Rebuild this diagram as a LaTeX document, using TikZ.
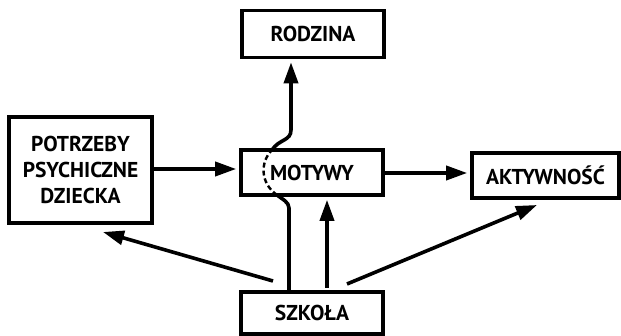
\documentclass[tikz,border=0pt]{standalone}
\usepackage{fontspec}
\setmainfont{PT Sans}
\usetikzlibrary{arrows.meta}
\begin{document}
\begin{tikzpicture}[x=1pt,y=-1pt,
  box/.style={draw,line width=3.6pt,inner sep=0pt,align=center,
    font=\fontsize{21.5}{26}\selectfont\bfseries},
  conn/.style={line width=3.6pt},
  arr/.style={conn,shorten >=3pt,-{Triangle[length=21pt,width=14pt]}}]
\useasboundingbox (0,0) rectangle (621,336);
\node[box,minimum width=142pt,minimum height=47pt] (rodzina) at (313,34) {RODZINA};
\node[box,minimum width=142pt,minimum height=45pt] (motywy) at (312,172.5) {MOTYWY};
\node[box,minimum width=143pt,minimum height=106pt] (potrzeby) at (80.5,170) {POTRZEBY\\PSYCHICZNE\\DZIECKA};
\node[box,minimum width=147pt,minimum height=45pt] (aktyw) at (545.5,175.5) {AKTYWNOŚĆ};
\node[box,minimum width=142pt,minimum height=42pt] (szkola) at (312,313) {SZKOŁA};
% free ends
\coordinate (sl) at (273,281);
\coordinate (sr) at (347,284);
\coordinate (su) at (327,288);
\coordinate (sc) at (289,292);
\coordinate (pt) at (103,232);
\coordinate (at) at (537,205);
\coordinate (bin) at (277,195);
\coordinate (bout) at (272,150);
\coordinate (rv) at (291,130);
% horizontal arrows
\draw[arr] (potrzeby.east |- 0,169) -- (motywy.west |- 0,169);
\draw[arr] (motywy.east |- 0,173) -- (aktyw.west |- 0,173);
% from school
\draw[arr,shorten >=0pt] (sl) -- (pt);
\draw[arr,shorten >=0pt] (sr) -- (at);
\draw[arr] (su) -- (su |- motywy.south);
% curved line through MOTYWY to RODZINA
\draw[conn] (sc) -- (289,208) .. controls (289,202) and (282,199) .. (bin);
\draw[line width=2.4pt,dash pattern=on 5pt off 3pt] (bin) .. controls (260,183) and (260,162) .. (bout);
\draw[arr] (bout) .. controls (279,139) and (291,141) .. (rv) -- (rv |- rodzina.south);
\end{tikzpicture}
\end{document}
